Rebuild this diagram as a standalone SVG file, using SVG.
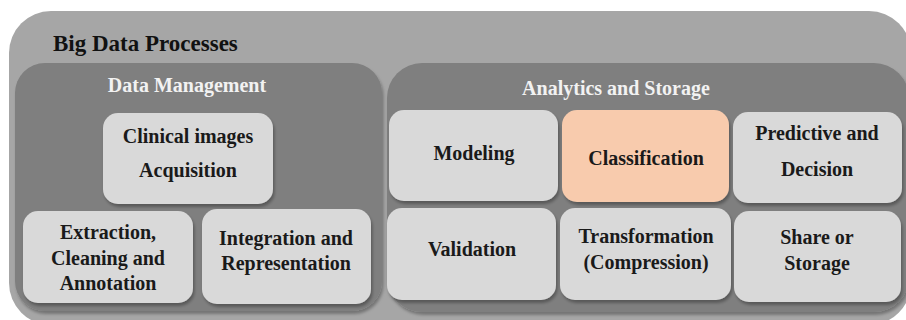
<svg xmlns="http://www.w3.org/2000/svg" width="906" height="320" viewBox="0 0 906 320">
  <defs>
    <filter id="shadow" x="-10%" y="-10%" width="120%" height="125%">
      <feDropShadow dx="1.5" dy="3" stdDeviation="1.5" flood-color="#000" flood-opacity="0.3"/>
    </filter>
    <style>
      .outer { fill: #a6a6a6; }
      .panel { fill: #7f7f7f; filter: url(#shadow); }
      .node { fill: #d9d9d9; filter: url(#shadow); }
      .hl { fill: #f8cbad; }
      .title { font-size: 23px; fill: #111; }
      .ptitle { font-size: 20px; fill: #f2f2f2; }
      .lbl { font-size: 20px; fill: #1a1a1a; }
    </style>
  </defs>

  <rect width="906" height="320" fill="#ffffff"/>

  <g font-family="Liberation Serif, DejaVu Serif, serif" font-weight="bold" text-anchor="middle">

  <!-- outer frame -->
  <g id="big-data-processes">
    <rect class="outer" x="9" y="11" width="902" height="314" rx="42"/>
    <text class="title" x="53" y="51" text-anchor="start">Big Data Processes</text>
  </g>

  <!-- Data Management panel -->
  <g id="data-management">
    <rect class="panel" x="15" y="63" width="367" height="248" rx="30"/>
    <text class="ptitle" x="187" y="92">Data Management</text>
  </g>

  <!-- Analytics and Storage panel -->
  <g id="analytics-storage">
    <rect class="panel" x="387" y="63" width="522" height="249" rx="35"/>
    <text class="ptitle" x="616" y="95">Analytics and Storage</text>
  </g>

  <g id="acquisition">
    <rect class="node" x="103" y="113" width="170" height="91" rx="15"/>
    <text class="lbl" x="188" y="143">Clinical images</text>
    <text class="lbl" x="188" y="177">Acquisition</text>
  </g>

  <g id="extraction">
    <rect class="node" x="23" y="211" width="170" height="92" rx="15"/>
    <text class="lbl" x="108" y="239">Extraction,</text>
    <text class="lbl" x="108" y="265">Cleaning and</text>
    <text class="lbl" x="108" y="290">Annotation</text>
  </g>

  <g id="integration">
    <rect class="node" x="202" y="209" width="169" height="95" rx="15"/>
    <text class="lbl" x="286" y="245">Integration and</text>
    <text class="lbl" x="286" y="270">Representation</text>
  </g>

  <g id="modeling">
    <rect class="node" x="389" y="110" width="169" height="91" rx="15"/>
    <text class="lbl" x="474" y="160">Modeling</text>
  </g>

  <g id="classification">
    <rect class="node hl" x="562" y="110" width="167" height="92" rx="15"/>
    <text class="lbl" x="646" y="165">Classification</text>
  </g>

  <g id="predictive">
    <rect class="node" x="733" y="112" width="169" height="91" rx="15"/>
    <text class="lbl" x="817" y="140">Predictive and</text>
    <text class="lbl" x="817" y="176">Decision</text>
  </g>

  <g id="validation">
    <rect class="node" x="387" y="208" width="169" height="92" rx="15"/>
    <text class="lbl" x="472" y="256">Validation</text>
  </g>

  <g id="transformation">
    <rect class="node" x="560" y="208" width="171" height="92" rx="15"/>
    <text class="lbl" x="646" y="243">Transformation</text>
    <text class="lbl" x="646" y="269">(Compression)</text>
  </g>

  <g id="share-storage">
    <rect class="node" x="734" y="211" width="167" height="91" rx="15"/>
    <text class="lbl" x="817" y="244">Share or</text>
    <text class="lbl" x="817" y="270">Storage</text>
  </g>

  </g>

  <!-- no connectors in this figure -->
  <g id="connectors"/>
</svg>
